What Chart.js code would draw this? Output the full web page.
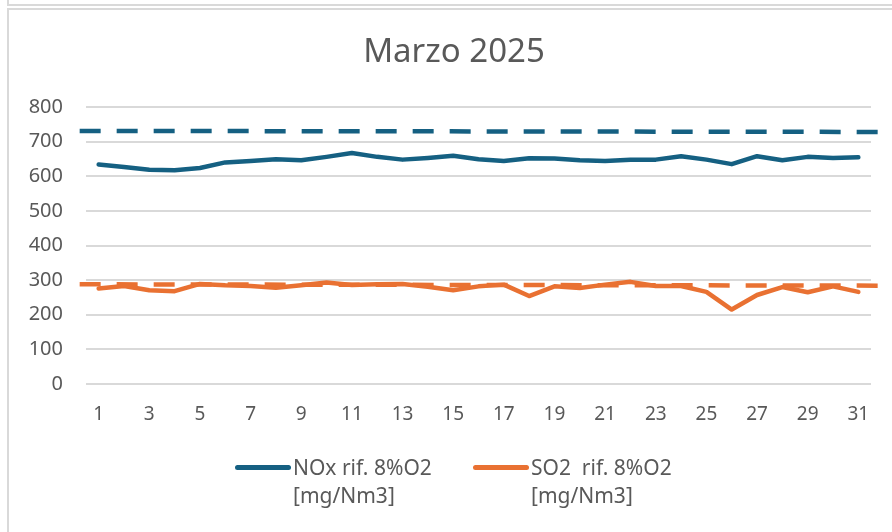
<!DOCTYPE html>
<html>
<head>
<meta charset="utf-8">
<script src="https://cdn.jsdelivr.net/npm/chart.js@4.4.1/dist/chart.umd.min.js"></script>
<style>
    body { margin: 0; width: 892px; height: 532px; overflow: hidden; background: #fff; font-family: "Noto Sans", sans-serif; }
    #boxAtas { position: absolute; left: 7px; top: -12px; width: 900px; height: 14px; border: 2px solid #d9d9d9; }
    #box { position: absolute; left: 7px; top: 8px; width: 900px; height: 540px; border: 2px solid #d9d9d9; }
    #wrap { position: absolute; left: 0; top: 0; width: 892px; height: 532px; }
    #judul { position: absolute; left: 254px; width: 400px; top: 30px; text-align: center; color: #595959; font-size: 33px; line-height: 40px; }
    .legenda { position: absolute; top: 453px; color: #595959; font-size: 21px; line-height: 28px; }
    .legenda .garis { position: absolute; left: 0; top: 12px; width: 56px; height: 5px; border-radius: 3px; }
    .legenda .teks { position: absolute; left: 58px; top: 0; white-space: pre; }
</style>
</head>
<body>
<div id="boxAtas"></div>
<div id="box"></div>
<div id="wrap"><canvas id="grafik" width="892" height="532"></canvas></div>
<div id="judul"></div>
<div id="legendaBox"></div>
<script>
// data (mg/Nm3)
const judul = 'Marzo 2025';
const hari = ['1','2','3','4','5','6','7','8','9','10','11','12','13','14','15','16',
    '17','18','19','20','21','22','23','24','25','26','27','28','29','30','31'];
const noxData = [634, 627, 619, 617, 624, 640, 644, 649, 646, 656, 667, 656, 648, 653, 659, 649,
    644, 652, 651, 646, 644, 648, 648, 658, 648, 635, 658, 646, 656, 653, 655];
const so2Data = [276, 283, 271, 268, 289, 285, 283, 278, 285, 293, 286, 288, 289, 281, 271, 282,
    287, 254, 282, 277, 287, 295, 283, 283, 266, 215, 257, 280, 265, 282, 266];
const noxLimit = [731, 728];
const so2Limit = [288, 284];
const yTicks = [0, 100, 200, 300, 400, 500, 600, 700, 800];

const warnaNox = '#156082';
const warnaSo2 = '#E97132';
const abu = '#595959';

Chart.defaults.font.family = "'Noto Sans', sans-serif";
Chart.defaults.color = abu;

document.getElementById('judul').textContent = judul;

const ctx = document.getElementById('grafik').getContext('2d');
const grafik = new Chart(ctx, {
    type: 'line',
    data: {
        labels: hari,
        datasets: [
            {
                label: 'NOx rif. 8%O2\n[mg/Nm3]',
                data: noxData,
                borderColor: warnaNox,
                borderWidth: 4.5,
                borderCapStyle: 'round',
                borderJoinStyle: 'round',
                pointRadius: 0,
                tension: 0,
                order: 1
            },
            {
                label: 'SO2  rif. 8%O2\n[mg/Nm3]',
                data: so2Data,
                borderColor: warnaSo2,
                borderWidth: 4.5,
                borderCapStyle: 'round',
                borderJoinStyle: 'round',
                pointRadius: 0,
                tension: 0,
                order: 1
            },
            {
                label: 'limite NOx',
                data: [{ x: 0.25, y: noxLimit[0] }, { x: 31.8, y: noxLimit[1] }],
                xAxisID: 'x2',
                borderColor: warnaNox,
                borderWidth: 4.5,
                borderDash: [21, 16],
                pointRadius: 0,
                clip: false,
                order: 2
            },
            {
                label: 'limite SO2',
                data: [{ x: 0.25, y: so2Limit[0] }, { x: 32.4, y: so2Limit[1] }],
                xAxisID: 'x2',
                borderColor: warnaSo2,
                borderWidth: 4.5,
                borderDash: [21, 16],
                pointRadius: 0,
                clip: false,
                order: 2
            }
        ]
    },
    options: {
        responsive: false,
        animation: false,
        layout: { padding: { left: 0, right: 21, top: 107, bottom: 88 } },
        plugins: {
            legend: { display: false },
            tooltip: { enabled: false },
            title: { display: false }
        },
        scales: {
            x: {
                offset: true,
                grid: { display: false },
                border: { display: false },
                ticks: {
                    autoSkip: false,
                    maxRotation: 0,
                    padding: 11,
                    font: { size: 19 },
                    color: abu,
                    callback: function(val, i) { return i % 2 === 0 ? hari[i] : ''; }
                },
                afterFit: function(scale) { scale.height = 60; }
            },
            x2: {
                type: 'linear',
                display: false,
                min: 0.5,
                max: 31.5
            },
            y: {
                min: 0,
                max: 800,
                afterBuildTicks: function(scale) { scale.ticks = yTicks.map(v => ({ value: v })); },
                grid: { color: '#d9d9d9', lineWidth: 2, drawTicks: false },
                border: { display: false },
                ticks: { padding: 23, font: { size: 20 }, color: abu },
                afterFit: function(scale) { scale.width = 86; }
            }
        }
    }
});

// legenda html, teks dua baris seperti di excel
const legendaPos = [235, 473];
grafik.data.datasets.slice(0, 2).forEach(function(ds, i) {
    const item = document.createElement('div');
    item.className = 'legenda';
    item.style.left = legendaPos[i] + 'px';
    item.innerHTML = '<span class="garis" style="background:' + ds.borderColor + '"></span>' +
        '<span class="teks"></span>';
    item.querySelector('.teks').textContent = ds.label;
    document.getElementById('legendaBox').appendChild(item);
});
</script>
</body>
</html>
